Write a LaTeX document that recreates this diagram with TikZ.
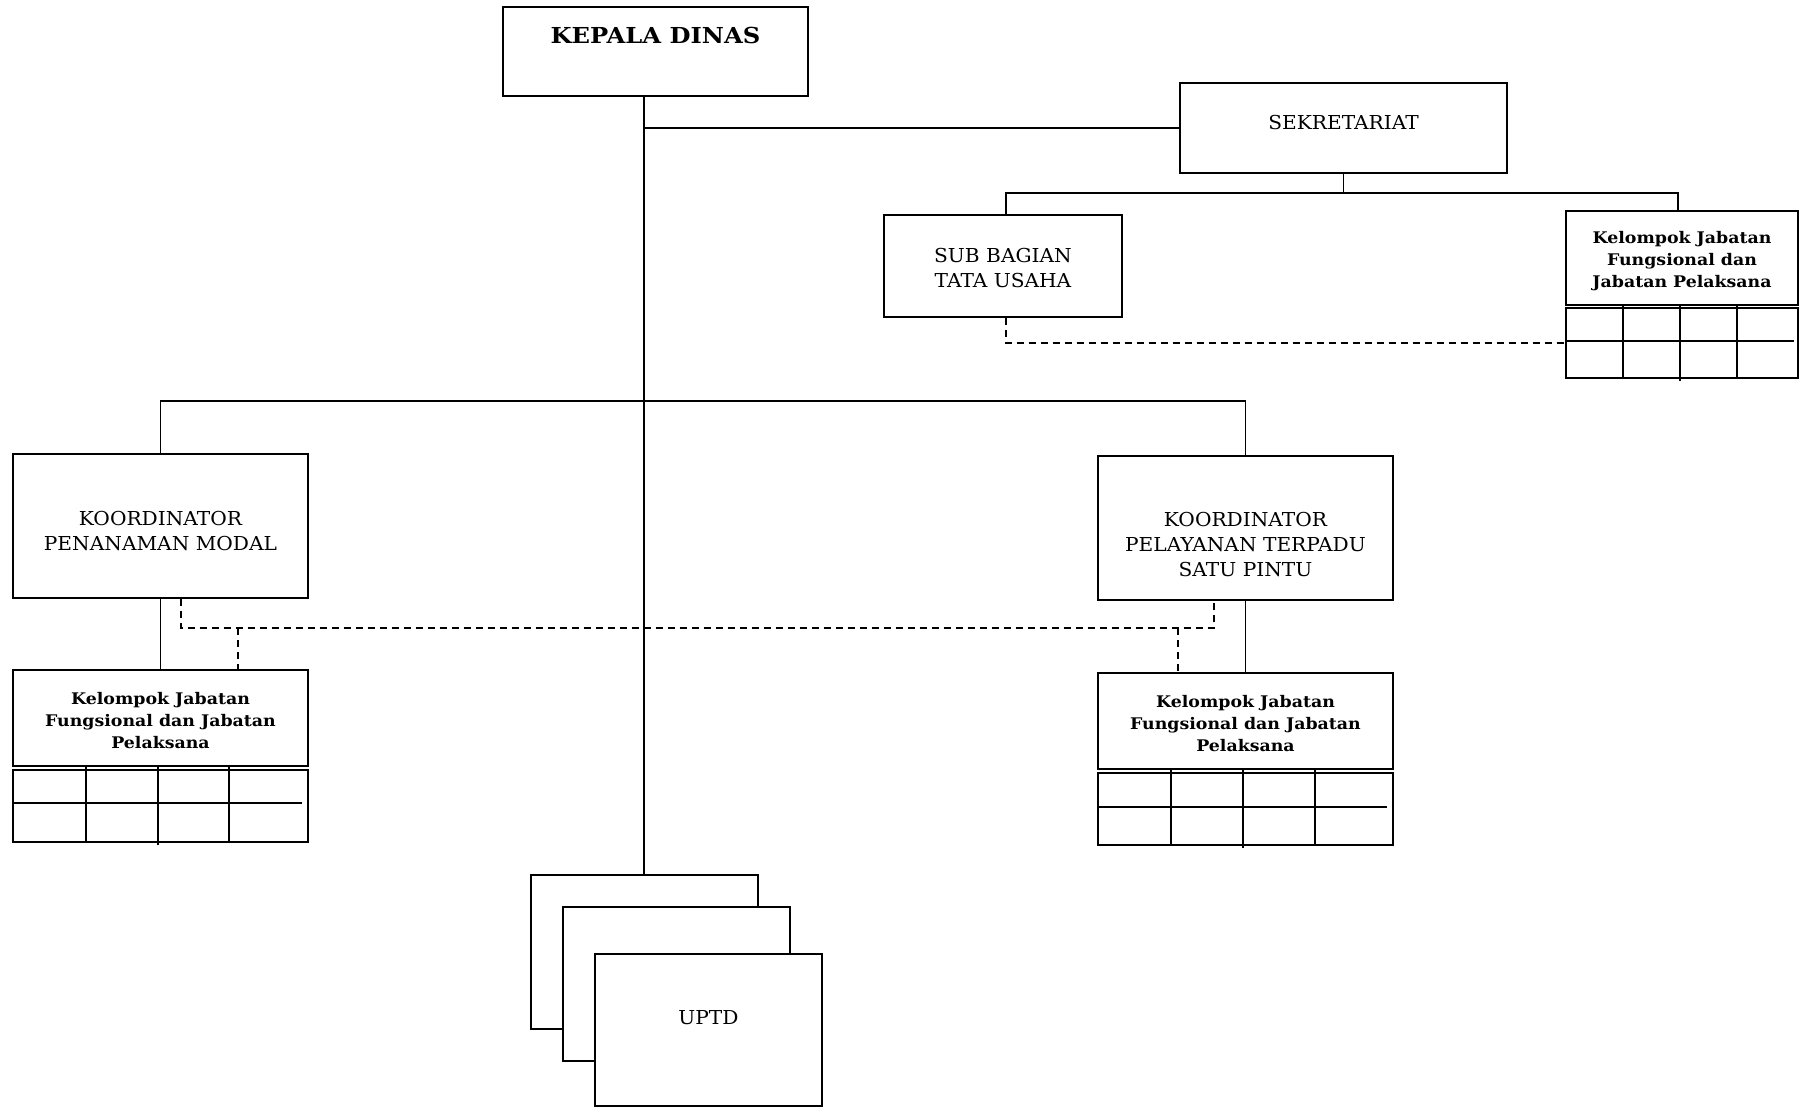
\documentclass[tikz,border=0pt]{standalone}
\usepackage{fontspec}
\setmainfont{DejaVu Serif}
\newfontfamily\rf[FakeStretch=1.05]{DejaVu Serif}
\newfontfamily\kf[FakeStretch=1.085]{DejaVu Serif}
\newfontfamily\hf[FakeStretch=1.1]{DejaVu Serif}
\usetikzlibrary{fit}
\begin{document}
\begin{tikzpicture}[x=0.5pt,y=-0.5pt,
  line width=0.7pt,
  box/.style={draw, line width=0.7pt, inner sep=0pt, fill=white},
  txt/.style={font=\rf\fontsize{9.6}{12.5}\selectfont, align=center, inner sep=0pt},
  kb/.style={font=\kf\bfseries\fontsize{8}{11}\selectfont, align=center, inner sep=0pt},
  dsh/.style={dash pattern=on 3.5pt off 2.5pt}]
\useasboundingbox (0,0) rectangle (1800,1107);
% coordinates
\coordinate (mx) at (644,0);
\coordinate (sy) at (0,193);
\coordinate (hy) at (0,401);
\coordinate (dy) at (0,628);
\coordinate (d1) at (181,0);
\coordinate (d2) at (238,0);
\coordinate (d3) at (1178,0);
\coordinate (d4) at (1214,0);
\coordinate (sx) at (1006,0);
\coordinate (kx) at (1678,0);
% boxes
\node[box, fit={(503,7) (808,96)}] (kd) {};
\node[box, fit={(1180,83) (1507,173)}] (sek) {};
\node[box, fit={(884,215) (1122,317)}] (sub) {};
\node[box, fit={(1566,211) (1798,305)}] (kr) {};
\node[box, fit={(1566,308) (1798,378)}] (krg) {};
\node[box, fit={(13,454) (308,598)}] (pm) {};
\node[box, fit={(1098,456) (1393,600)}] (ptsp) {};
\node[box, fit={(13,670) (308,766)}] (kl) {};
\node[box, fit={(13,770) (308,842)}] (klg) {};
\node[box, fit={(1098,673) (1393,769)}] (kp) {};
\node[box, fit={(1098,773) (1393,845)}] (kpg) {};
% connectors
\draw (sek.west) -- (sek.west -| mx);
\draw (sek.south) -- (sek.south |- sy);
\draw (sub.north -| sx) -- (sy -| sx) -- (sy -| kx) -- (kr.north -| kx);
\draw[dsh] (sub.south -| sx) |- (krg.west);
\draw (pm.north) -- (pm.north |- hy) -- (ptsp.north |- hy) -- (ptsp.north);
\draw (pm.south) -- (kl.north);
\draw (ptsp.south) -- (kp.north);
\draw[dsh] (pm.south -| d1) |- (dy -| d4) -- (ptsp.south -| d4);
\draw[dsh] (dy -| d2) -- (kl.north -| d2);
\draw[dsh] (dy -| d3) -- (kp.north -| d3);
% UPTD stack
\node[box, fit={(531,875) (758,1029)}] (u1) {};
\draw (kd.south -| mx) -- (u1.north -| mx);
\node[box, fit={(563,907) (790,1061)}] (u2) {};
\node[box, fit={(595,954) (822,1106)}] (u3) {};
% grids
\draw (1566,341) -- (1794,341);
\draw (1623,306) -- (1623,378);
\draw (1680,306) -- (1680,381);
\draw (1737,306) -- (1737,378);
\draw (13,803) -- (302,803);
\draw (86,767) -- (86,842);
\draw (158,767) -- (158,845);
\draw (229,767) -- (229,842);
\draw (1098,807) -- (1387,807);
\draw (1171,770) -- (1171,845);
\draw (1243,770) -- (1243,848);
\draw (1315,770) -- (1315,845);
% texts
\node[font=\hf\bfseries\fontsize{11}{13}\selectfont, inner sep=0pt] (kdt) at (655.5,35) {KEPALA DINAS};
\node[txt] (sekt) at (1343.5,123) {SEKRETARIAT};
\node[txt] (subt) at (1003,268) {SUB BAGIAN\\TATA USAHA};
\node[kb] (krt) at (1682,261) {Kelompok Jabatan\\Fungsional dan\\Jabatan Pelaksana};
\node[txt] (pmt) at (160.5,531.5) {KOORDINATOR\\PENANAMAN MODAL};
\node[txt] (ptspt) at (1245.5,545) {KOORDINATOR\\PELAYANAN TERPADU\\SATU PINTU};
\node[kb] (klt) at (160.5,721) {Kelompok Jabatan\\Fungsional dan Jabatan\\Pelaksana};
\node[kb] (kpt) at (1245.5,724) {Kelompok Jabatan\\Fungsional dan Jabatan\\Pelaksana};
\node[txt] (u3t) at (708.5,1018) {UPTD};
\end{tikzpicture}
\end{document}
